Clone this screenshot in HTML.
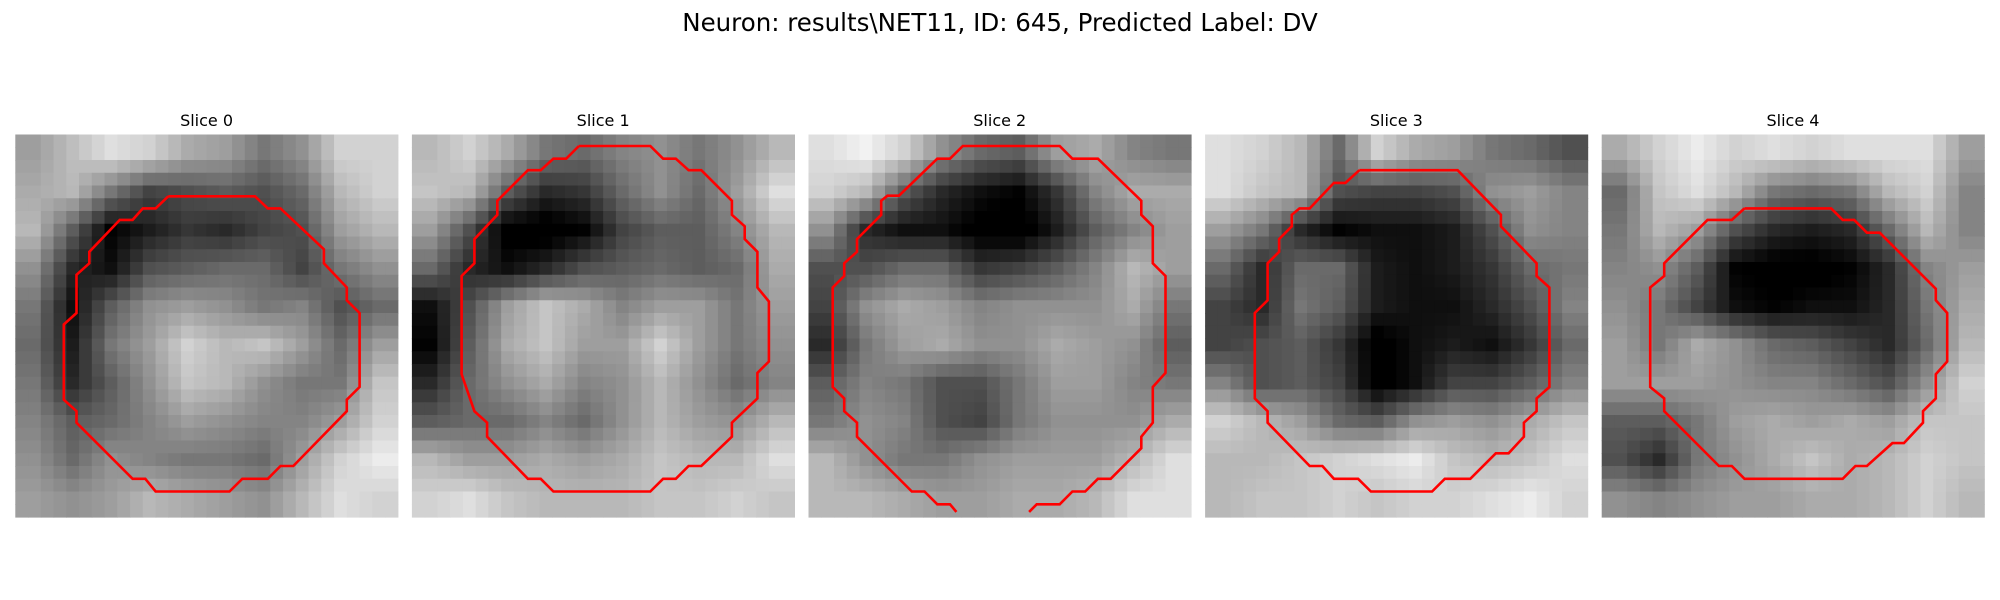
<!DOCTYPE html>
<html><head><meta charset="utf-8"><style>
html,body{margin:0;padding:0;background:#fff;}
svg{display:block;font-family:"DejaVu Sans","Liberation Sans",sans-serif;}
</style></head><body>
<svg id="fig" width="2000" height="600" viewBox="0 0 2000 600" xmlns="http://www.w3.org/2000/svg">
<text x="1000" y="31" text-anchor="middle" font-size="24.5" fill="#000">Neuron: results\NET11, ID: 645, Predicted Label: DV</text>
</svg>
<script>
const sliceTitles = ["Slice 0","Slice 1","Slice 2","Slice 3","Slice 4"];
const coarse0 = [
[150,175,200,190,160,150,120,140,190,190],[160,170,120,80,90,100,90,110,170,190],
[170,100,30,50,70,60,80,90,150,170],[140,60,40,90,100,110,110,80,120,140],
[120,40,100,140,150,140,120,130,90,110],[110,50,120,150,190,170,180,150,110,150],
[120,60,100,140,180,170,140,120,120,180],[130,100,110,130,150,140,130,130,150,190],
[140,110,140,130,120,120,110,150,190,210],[150,140,150,170,160,150,140,170,200,190]];
const coarse1 = [
[170,190,160,120,110,130,140,120,140,170],[180,170,100,60,70,110,140,110,150,200],
[150,90,20,15,30,80,100,100,130,170],[110,60,40,60,90,100,110,100,110,160],
[40,90,150,180,160,130,150,150,120,150],[30,100,160,180,150,150,190,150,120,140],
[60,110,140,160,130,140,170,140,110,130],[100,110,110,130,110,140,170,150,140,170],
[170,150,150,160,150,160,180,170,170,200],[190,200,180,170,170,170,180,180,190,180]];
const coarse2 = [
[200,215,190,140,110,100,150,160,130,120],[190,170,100,60,40,30,70,130,160,160],
[140,60,40,40,20,15,50,100,130,150],[90,90,110,110,70,80,100,130,170,150],
[80,140,160,150,130,140,140,140,160,120],[60,120,150,160,140,140,160,150,140,100],
[100,130,120,90,90,120,150,150,130,120],[120,140,130,90,80,120,140,140,140,160],
[170,140,120,120,140,150,150,150,170,200],[170,170,160,150,150,160,160,170,200,200]];
const coarse3 = [
[200,190,170,110,190,160,150,120,110,90],[200,180,170,90,80,80,90,140,150,130],
[150,120,60,30,40,40,50,90,140,130],[110,60,110,110,50,40,50,70,110,120],
[80,60,120,100,50,40,40,60,90,130],[80,90,100,70,20,40,50,40,70,110],
[130,90,100,80,20,40,80,80,100,130],[190,170,150,110,100,140,150,140,160,180],
[170,170,180,190,200,210,180,170,180,200],[170,180,180,190,180,190,190,200,210,190]];
const coarse4 = [
[160,190,210,190,200,190,200,200,200,150],[110,180,200,170,120,110,120,170,190,130],
[120,170,150,90,60,50,60,110,170,130],[130,140,100,30,20,20,30,60,130,150],
[140,120,80,40,30,40,40,60,120,160],[150,120,160,140,110,100,80,60,110,170],
[150,150,150,140,130,130,110,90,140,190],[100,100,120,150,160,150,160,150,180,180],
[90,60,120,140,160,180,160,170,190,180],[140,130,140,150,150,160,160,170,190,170]];
const contour0 = [[12,4.85],[18.8,4.85],[19.8,5.8],[20.8,5.8],[24.2,9],[24.2,10.1],[26,12],[26,13],[27,14],[27,19.8],[26,20.8],[26,21.7],[21.8,26],[20.8,26],[19.8,27],[17.8,27],[16.8,28],[11,28],[10.2,27],[9.2,27],[4.8,22.6],[4.8,21.7],[3.8,20.8],[3.8,14.9],[4.8,14],[4.8,11],[5.8,10.1],[5.8,9.2],[8.2,6.7],[9.2,6.7],[10,5.8],[11,5.8],[12,4.85]];
const contour1 = [[13.1,0.9],[18.7,0.9],[19.7,1.9],[20.7,1.9],[21.7,2.8],[22.7,2.8],[25.1,5.2],[25.1,6.3],[26.1,7.2],[26.1,8.2],[27.1,9.2],[27.1,12],[28,13.1],[28,17.8],[27.1,18.7],[27.1,20.7],[25.1,22.6],[25.1,23.7],[22.7,26],[21.7,26],[20.7,27],[19.7,27],[18.7,28],[11.1,28],[10.1,27],[9.1,27],[5.9,23.7],[5.9,22.6],[4.9,21.7],[3.9,18.8],[3.9,11.1],[4.9,10.1],[4.9,8.2],[6.7,6.3],[6.7,5.2],[9.1,2.8],[10.1,2.8],[11.1,1.9],[12.1,1.9],[13.1,0.9]];
const contour2 = [[17.3,29.6],[17.9,29],[19.7,29],[20.7,28],[21.7,28],[22.7,27],[23.7,27],[26.1,24.6],[26.1,23.7],[27,22.6],[27,19.8],[28,18.7],[28,11.1],[27,10.1],[27,7.2],[26.1,6.3],[26.1,5.2],[22.7,1.9],[20.7,1.9],[19.7,0.9],[12.1,0.9],[11.1,1.9],[10.1,1.9],[7.1,4.8],[6.2,4.8],[5.7,5.2],[5.7,6.3],[3.8,8.2],[3.8,9.2],[2.8,10.1],[2.8,11.1],[1.9,12],[1.9,19.8],[2.8,20.7],[2.8,21.7],[3.8,22.6],[3.8,23.7],[8.1,28],[9.1,28],[10.1,29],[11.1,29],[11.6,29.6]];
const contour3 = [[12.1,2.8],[19.8,2.8],[23.2,6.3],[23.2,7.2],[26,10.1],[26,11.1],[27,12],[27,19.8],[26,20.7],[26,21.7],[25,22.6],[25,23.7],[23.8,25],[22.8,25],[20.8,27],[18.8,27],[17.8,28],[13,28],[12,27],[10.1,27],[9.2,26],[8.2,26],[4.9,22.6],[4.9,21.7],[3.9,20.7],[3.9,14],[4.9,13],[4.9,10.1],[5.8,9.2],[5.8,8.2],[6.8,7.2],[6.8,6.3],[7.4,5.8],[8.2,5.8],[10.1,3.8],[11,3.8],[12.1,2.8]];
const contour4 = [[11.2,5.8],[18,5.8],[18.9,6.7],[19.8,6.7],[20.8,7.7],[21.8,7.7],[26.2,12.1],[26.2,13],[27.1,14],[27.1,17.8],[26.2,18.8],[26.2,20.7],[25.2,21.7],[25.2,22.6],[23.7,24.2],[22.8,24.2],[20.8,26],[19.9,26],[18.9,27],[11.2,27],[10.2,26],[9.2,26],[4.9,21.7],[4.9,20.7],[3.8,19.8],[3.8,12],[4.9,11.1],[4.9,10.1],[8.3,6.7],[10.2,6.7],[11.2,5.8]];

const grids=[coarse0,coarse1,coarse2,coarse3,coarse4];
const contours=[contour0,contour1,contour2,contour3,contour4];
const NS="http://www.w3.org/2000/svg";
const svg=document.getElementById('fig');
const panelX0=15.3, panelStep=396.6, panelY=134.5, panelSize=382.5, N=30;
function sample(g,r,c){
  const y=Math.min(Math.max((r+0.5)/3-0.5,0),9), x=Math.min(Math.max((c+0.5)/3-0.5,0),9);
  const y0=Math.floor(y),x0=Math.floor(x),y1=Math.min(y0+1,9),x1=Math.min(x0+1,9);
  const fy=y-y0,fx=x-x0;
  return g[y0][x0]*(1-fx)*(1-fy)+g[y0][x1]*fx*(1-fy)+g[y1][x0]*(1-fx)*fy+g[y1][x1]*fx*fy;
}
function stretch(v){return Math.max(0,Math.min(255,Math.round(125+(v-125)*1.3)));}
for(let p=0;p<5;p++){
  const ox=panelX0+p*panelStep, cs=panelSize/N;
  const g=document.createElementNS(NS,'g');
  
  
  svg.appendChild(g);
  const t=document.createElementNS(NS,'text');
  
  
  t.setAttribute('x',ox+panelSize/2);t.setAttribute('y',126);
  t.setAttribute('text-anchor','middle');t.setAttribute('font-size','16');
  t.textContent=sliceTitles[p];g.appendChild(t);
  const img=document.createElementNS(NS,'g');
  
  
  g.appendChild(img);
  let html='';
  for(let r=0;r<N;r++)for(let c=0;c<N;c++){
    const v=stretch(sample(grids[p],r,c));
    html+=`<rect x="${(ox+c*cs).toFixed(2)}" y="${(panelY+r*cs).toFixed(2)}" width="${(cs+0.6).toFixed(2)}" height="${(cs+0.6).toFixed(2)}" fill="rgb(${v},${v},${v})"/>`;
  }
  img.innerHTML=html;
  const pl=document.createElementNS(NS,'polyline');
  
  
  pl.setAttribute('points',contours[p].map(q=>(ox+q[0]*cs).toFixed(1)+','+(panelY+q[1]*cs).toFixed(1)).join(' '));
  pl.setAttribute('fill','none');pl.setAttribute('stroke','#ff0000');pl.setAttribute('stroke-width','2.6');
  g.appendChild(pl);
}
</script>
</body></html>
